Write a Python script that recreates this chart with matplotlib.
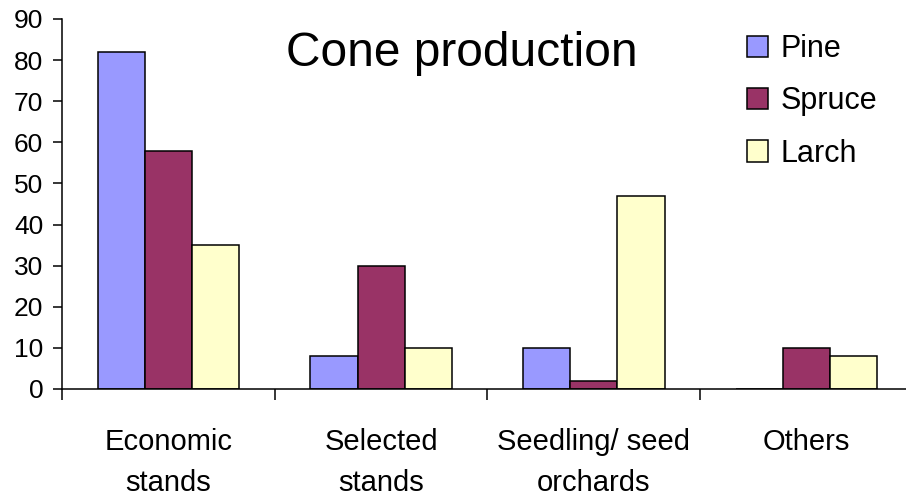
import matplotlib.pyplot as plt
from matplotlib.patches import Patch
import numpy as np

categories = ['Economic\nstands', 'Selected\nstands', 'Seedling/ seed\norchards', 'Others']
series_names = ['Pine', 'Spruce', 'Larch']
pine = [82, 8, 10, 0]
spruce = [58, 30, 2, 10]
larch = [35, 10, 47, 8]
colors = ['#9999FF', '#993366', '#FFFFCC']

plt.rcParams['font.family'] = ['Liberation Sans', 'DejaVu Sans']

W, H = 906, 496
fig = plt.figure(figsize=(W / 100, H / 100), dpi=100)
ax = fig.add_axes([62 / W, 1 - 389 / H, (913 - 62) / W, (389 - 19) / H])

x = np.arange(len(categories)) + 0.5
width = 0.222
for i, (vals, c) in enumerate(zip([pine, spruce, larch], colors)):
    ax.bar(x + (i - 1) * width, vals, width, color=c, edgecolor='black', linewidth=1.1)

ax.set_xlim(0, 4)
ax.set_ylim(0, 90)
ax.set_yticks(range(0, 91, 10))
ax.tick_params(axis='y', labelsize=19, length=6.5, width=1.1, pad=7)

ax.set_xticks(x)
ax.set_xticklabels(categories, fontsize=21, linespacing=1.58)
ax.set_xticks(np.arange(0, 5), minor=True)
ax.tick_params(axis='x', which='major', length=0, pad=28)
ax.tick_params(axis='x', which='minor', length=8, width=1.1, direction='out')

for s in ['top', 'right']:
    ax.spines[s].set_visible(False)
for s in ['left', 'bottom']:
    ax.spines[s].set_linewidth(1.1)

fig.text(462 / W, 1 - 66 / H, 'Cone production', ha='center', va='baseline', fontsize=34.5)

handles = [Patch(facecolor=c, edgecolor='black', linewidth=1.1) for c in colors]
fig.legend(handles, series_names, loc='upper left', bbox_to_anchor=(747 / W, 1 - 34 / H),
           frameon=False, fontsize=22, handlelength=0.7, handleheight=0.7,
           handletextpad=0.4, labelspacing=0.73, borderpad=0, borderaxespad=0)

fig.savefig('out.png', dpi=100)
